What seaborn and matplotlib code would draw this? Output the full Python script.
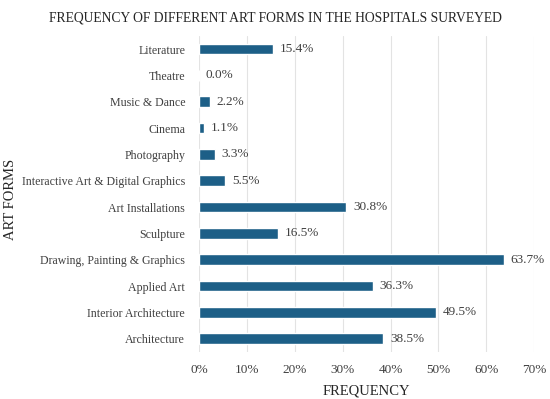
import matplotlib
matplotlib.use("Agg")
import matplotlib.pyplot as plt
import seaborn as sns
import pandas as pd

# Chart data (top to bottom as drawn)
art_forms = [
    "Literature", "Theatre", "Music & Dance", "Cinema", "Photography",
    "Interactive Art & Digital Graphics", "Art Installations", "Sculpture",
    "Drawing, Painting & Graphics", "Applied Art", "Interior Architecture",
    "Architecture",
]
frequency = [15.4, 0.0, 2.2, 1.1, 3.3, 5.5, 30.8, 16.5, 63.7, 36.3, 49.5, 38.5]
x_ticks = [0, 10, 20, 30, 40, 50, 60, 70]

BAR_COLOR = "#1d5f87"

sns.set_theme(style="white")
plt.rcParams["font.family"] = ["Liberation Serif", "DejaVu Serif"]

df = pd.DataFrame({"Art form": art_forms, "Frequency": frequency})

fig = plt.figure(figsize=(5.5, 3.99), dpi=100)
ax = fig.add_axes([0.362, 0.118, 0.609, 0.792])

sns.barplot(data=df, y="Art form", x="Frequency", color=BAR_COLOR,
            width=0.4, saturation=1, ax=ax, zorder=3)

for i, v in enumerate(frequency):
    ax.text(v + 1.4, i, f"{v:.1f}%", va="center", ha="left",
            fontsize=9.5, color="#404040")

ax.set_xlim(0, 70)
ax.set_xticks(x_ticks)
ax.set_xticklabels([f"{t}%" for t in x_ticks])
ax.tick_params(axis="x", length=0, labelsize=9.5, colors="#404040", pad=9)
ax.tick_params(axis="y", length=0, labelsize=8.6, colors="#404040", pad=10)
ax.grid(axis="x", color="#e3e3e3", linewidth=0.8, zorder=0)
ax.grid(axis="y", visible=False)
for s in ax.spines.values():
    s.set_visible(False)

ax.set_xlabel("FREQUENCY", fontsize=10.5, color="#262626", labelpad=6)
ax.set_ylabel("ART FORMS", fontsize=10.5, color="#262626")
ax.yaxis.set_label_coords(0.031, 0.5, transform=fig.transFigure)
fig.text(0.5, 0.955, "FREQUENCY OF DIFFERENT ART FORMS IN THE HOSPITALS SURVEYED",
         ha="center", va="center", fontsize=9.8, color="#262626")

fig.savefig("out.png", dpi=100)
